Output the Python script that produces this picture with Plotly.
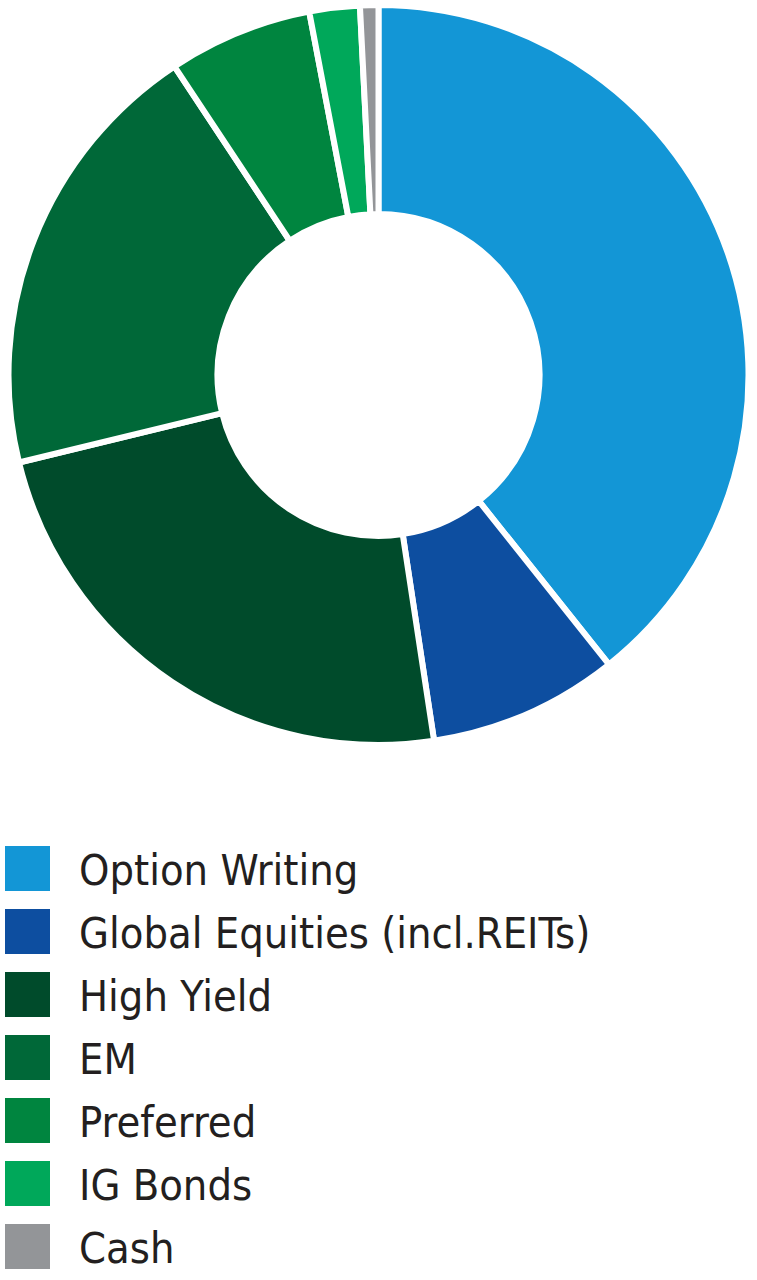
import plotly.graph_objects as go

labels = ['Option Writing', 'Global Equities (incl.REITs)', 'High Yield', 'EM',
          'Preferred', 'IG Bonds', 'Cash']
weights = [39.3, 8.3, 23.6, 19.5, 6.3, 2.2, 0.8]
colors = ['#1396D6', '#0D4EA0', '#004B2B', '#006838', '#00853F', '#00A85A', '#939598']

W, H = 757, 1280

fig = go.Figure(go.Pie(
    labels=labels,
    values=weights,
    sort=False,
    direction='clockwise',
    rotation=0,
    hole=0.435,
    textinfo='none',
    marker=dict(colors=colors, line=dict(color='white', width=6)),
    domain=dict(x=[0, 1], y=[1 - 745 / H, 1 - 5 / H]),
    showlegend=False,
))

# legend drawn by hand: big squares + condensed labels
top, step, box = 846, 63, 45
for i, (lab, col) in enumerate(zip(labels, colors)):
    y0 = top + i * step
    fig.add_shape(type='rect', xref='paper', yref='paper',
                  x0=5 / W, x1=(5 + box) / W,
                  y0=1 - (y0 + box) / H, y1=1 - y0 / H,
                  fillcolor=col, line=dict(width=0))
    fig.add_annotation(xref='paper', yref='paper',
                       x=77 / W, y=1 - (y0 + box / 2 + 1) / H,
                       xanchor='left', yanchor='middle', showarrow=False,
                       text=lab,
                       font=dict(family='DejaVu Sans Condensed, DejaVu Sans',
                                 size=43, color='#231F20'))

fig.update_layout(width=W, height=H, margin=dict(l=0, r=0, t=0, b=0),
                  paper_bgcolor='white', plot_bgcolor='white')

# page has a default 8px body margin, drop it so the figure sits at 0,0
fig.write_html("out.html", config={'displayModeBar': False},
               post_script="document.body.style.margin='0';")
